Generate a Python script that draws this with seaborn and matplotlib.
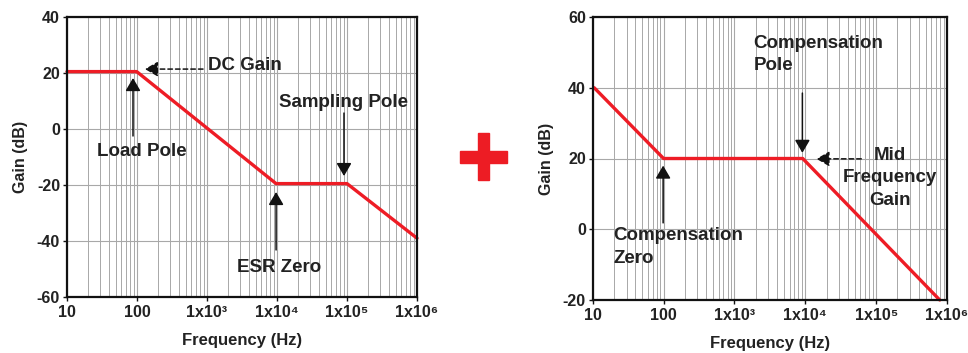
import numpy as np
import pandas as pd
import seaborn as sns
import matplotlib
matplotlib.use("Agg")
import matplotlib.pyplot as plt
from matplotlib.patches import Rectangle
from matplotlib.ticker import LogLocator, FixedLocator, NullFormatter

# ---- data ----
plant_freq = [10, 99, 9.7e3, 1.0e5, 1.0e6]
plant_gain = [20.5, 20.5, -19.5, -19.5, -39]
comp_freq = [10.5, 100, 9.2e3, 7.9e5]
comp_gain = [40, 20, 20, -20]

x_ticks = [10, 100, 1e3, 1e4, 1e5, 1e6]
x_ticklabels = ["10", "100", "1x10³", "1x10⁴", "1x10⁵", "1x10⁶"]
left_yticks = [40, 20, 0, -20, -40, -60]
right_yticks = [60, 40, 20, 0, -20]

RED = "#EE1C25"
GRID = "#a8a8a8"

sns.set_theme(style="white")
plt.rcParams['font.family'] = ['Liberation Sans', 'DejaVu Sans']
plt.rcParams['font.weight'] = 'bold'
plt.rcParams['axes.unicode_minus'] = False

fig = plt.figure(figsize=(9.68, 3.53), dpi=100)
W, H = 968, 353

def add_ax(x0, y0, x1, y1):
    return fig.add_axes([x0 / W, 1 - y1 / H, (x1 - x0) / W, (y1 - y0) / H])

axL = add_ax(67, 17, 417, 297)
axR = add_ax(592.7, 17, 947, 300)

def style(ax, yticks, ylim):
    ax.set_xscale("log")
    ax.set_xlim(10, 1e6)
    ax.set_ylim(*ylim)
    ax.xaxis.set_major_locator(FixedLocator(x_ticks))
    ax.set_xticklabels(x_ticklabels)
    ax.xaxis.set_minor_locator(LogLocator(base=10, subs=np.arange(2, 10)))
    ax.xaxis.set_minor_formatter(NullFormatter())
    ax.set_yticks(yticks)
    ax.grid(True, which="major", axis="both", color=GRID, lw=0.8)
    ax.grid(True, which="minor", axis="x", color=GRID, lw=0.7)
    ax.set_axisbelow(True)
    for s in ax.spines.values():
        s.set_visible(True)
        s.set_color("#111111")
        s.set_linewidth(1.6)
    ax.tick_params(axis="both", which="major", direction="out", length=3, width=1,
                   color="#111111", labelsize=11.5, labelcolor="#222222",
                   bottom=True, left=True)
    ax.tick_params(axis="x", which="major", pad=3)
    ax.tick_params(axis="y", which="major", pad=2)
    ax.tick_params(axis="x", which="minor", length=0)
    for lab in ax.get_xticklabels() + ax.get_yticklabels():
        lab.set_fontweight("bold")
    ax.set_xlabel("Frequency (Hz)", fontsize=12, fontweight="bold", color="#222222", labelpad=9)
    ax.set_ylabel("Gain (dB)", fontsize=11.5, fontweight="bold", color="#222222", labelpad=6)

df_l = pd.DataFrame({"f": plant_freq, "g": plant_gain})
df_r = pd.DataFrame({"f": comp_freq, "g": comp_gain})
sns.lineplot(data=df_l, x="f", y="g", ax=axL, color=RED, lw=2.4, sort=False, clip_on=False)
sns.lineplot(data=df_r, x="f", y="g", ax=axR, color=RED, lw=2.4, sort=False, clip_on=False)

style(axL, left_yticks, (-60, 40))
style(axR, right_yticks, (-20, 60))

TXT = dict(fontsize=13.5, fontweight="bold", color="#222222")
arrow_solid = dict(arrowstyle="-|>,head_length=0.65,head_width=0.38", color="#111111", lw=1.1,
                   shrinkA=0, shrinkB=0)
arrow_dash = dict(arrowstyle="-|>,head_length=0.65,head_width=0.38", color="#111111", lw=1.1,
                  linestyle=(0, (3, 2)), shrinkA=0, shrinkB=0)

# left annotations
axL.text(1.03e3, 22.5, "DC Gain", ha="left", va="center", **TXT)
axL.annotate("", xy=(130, 21.4), xytext=(877, 21.4), arrowprops=arrow_dash)
axL.text(118, -8.2, "Load Pole", ha="center", va="center", **TXT)
axL.annotate("", xy=(87.7, 18.2), xytext=(87.7, -2.5), arrowprops=arrow_solid)
axL.text(9.06e4, 9.6, "Sampling Pole", ha="center", va="center", **TXT)
axL.annotate("", xy=(9.06e4, -16.8), xytext=(9.06e4, 5.7), arrowprops=arrow_solid)
axL.text(1.07e4, -49.3, "ESR Zero", ha="center", va="center", **TXT)
axL.annotate("", xy=(9.7e3, -22.5), xytext=(9.7e3, -43.2), arrowprops=arrow_solid)

# right annotations
axR.text(1.86e3, 49.3, "Compensation\nPole", ha="left", va="center", linespacing=1.4, **TXT)
axR.annotate("", xy=(9.1e3, 21.6), xytext=(9.1e3, 38.5), arrowprops=arrow_solid)
axR.text(1.58e5, 14.5, "Mid\nFrequency\nGain", ha="center", va="center", multialignment="center",
         linespacing=1.4, **TXT)
axR.annotate("", xy=(1.44e4, 19.9), xytext=(6.17e4, 19.9), arrowprops=arrow_dash)
axR.text(19.5, -5.0, "Compensation\nZero", ha="left", va="center", linespacing=1.4, **TXT)
axR.annotate("", xy=(98.6, 18.0), xytext=(98.6, 1.8), arrowprops=arrow_solid)

# red plus sign between the panels
def frect(x0, y0, x1, y1):
    fig.patches.append(Rectangle((x0 / W, 1 - y1 / H), (x1 - x0) / W, (y1 - y0) / H,
                                 transform=fig.transFigure, color="#ED1C24", zorder=5))
frect(460, 151, 507, 163)
frect(478, 133, 489, 180)

fig.savefig("out.png", dpi=100)
